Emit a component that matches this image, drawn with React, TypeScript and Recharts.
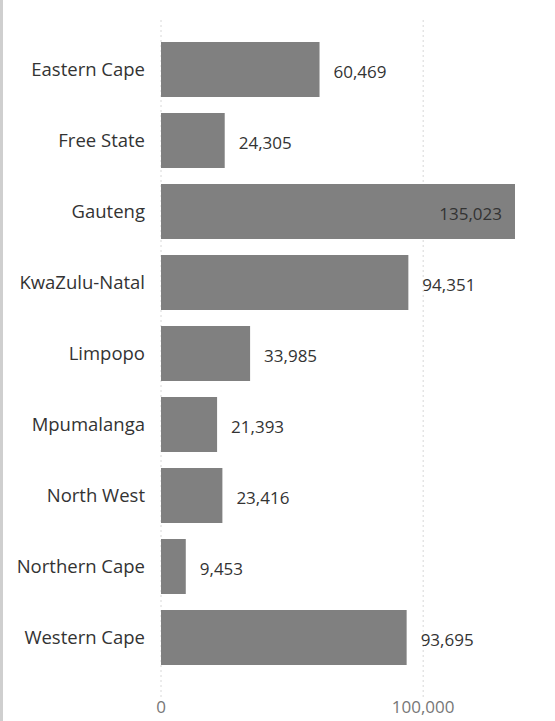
import React from 'react';
import { BarChart, Bar, XAxis, YAxis, CartesianGrid, LabelList } from 'recharts';

const provinces = [
  'Eastern Cape', 'Free State', 'Gauteng', 'KwaZulu-Natal', 'Limpopo',
  'Mpumalanga', 'North West', 'Northern Cape', 'Western Cape',
];
const counts = [60469, 24305, 135023, 94351, 33985, 21393, 23416, 9453, 93695];
const xTicks = [0, 100000];
const xMax = 135023;

const data = provinces.map((name, i) => ({ name, value: counts[i] }));

const W = 555;
const H = 721;
const FONT = '"Open Sans", "Noto Sans", sans-serif';
const fmt = (v: number) => v.toLocaleString('en-US');

const renderLabel = (props: any) => {
  const { x, y, width, height, value } = props;
  const text = fmt(Number(value));
  const textW = text.length * 9.6;
  const end = Number(x) + Number(width);
  const outside = end + 14 + textW <= W;
  return (
    <text
      x={outside ? end + 14 : end - 13}
      y={Number(y) + Number(height) / 2 + 2}
      textAnchor={outside ? 'start' : 'end'}
      dominantBaseline="central"
      fill="#333"
      fontSize={17}
      fontFamily={FONT}
    >
      {text}
    </text>
  );
};

// grid lines only where the axis ticks are
const gridX = ({ xAxis, offset }: any) => {
  if (xAxis && typeof xAxis.scale === 'function') {
    return xTicks.map((t) => xAxis.scale(t));
  }
  return xTicks.map((t) => offset.left + (t / xMax) * offset.width);
};

export default function App() {
  return (
    <div style={{ position: 'absolute', left: 0, top: 0, width: W, height: H, background: '#fff' }}>
      <div style={{ position: 'absolute', left: 0, top: 0, width: 3, height: H, background: '#cfcfcf' }} />
      <BarChart
        width={W}
        height={H}
        data={data}
        layout="vertical"
        margin={{ top: 20, right: 40, bottom: 0, left: 0 }}
        barCategoryGap={8}
      >
        <CartesianGrid
          horizontal={false}
          stroke="#d8d8d8"
          strokeDasharray="2 3"
          verticalCoordinatesGenerator={gridX}
        />
        <XAxis
          type="number"
          domain={[0, xMax]}
          ticks={xTicks}
          tickFormatter={fmt}
          axisLine={false}
          tickLine={false}
          tickSize={0}
          tickMargin={1}
          height={21}
          tick={{ fill: '#777', fontSize: 17, fontFamily: FONT }}
        />
        <YAxis
          type="category"
          dataKey="name"
          width={161}
          axisLine={false}
          tickLine={false}
          tickSize={0}
          tickMargin={16}
          padding={{ top: 14, bottom: 27 }}
          interval={0}
          tick={{ fill: '#333', fontSize: 18.5, fontFamily: FONT }}
        />
        <Bar dataKey="value" fill="#808080" isAnimationActive={false}>
          <LabelList dataKey="value" content={renderLabel} />
        </Bar>
      </BarChart>
    </div>
  );
}
